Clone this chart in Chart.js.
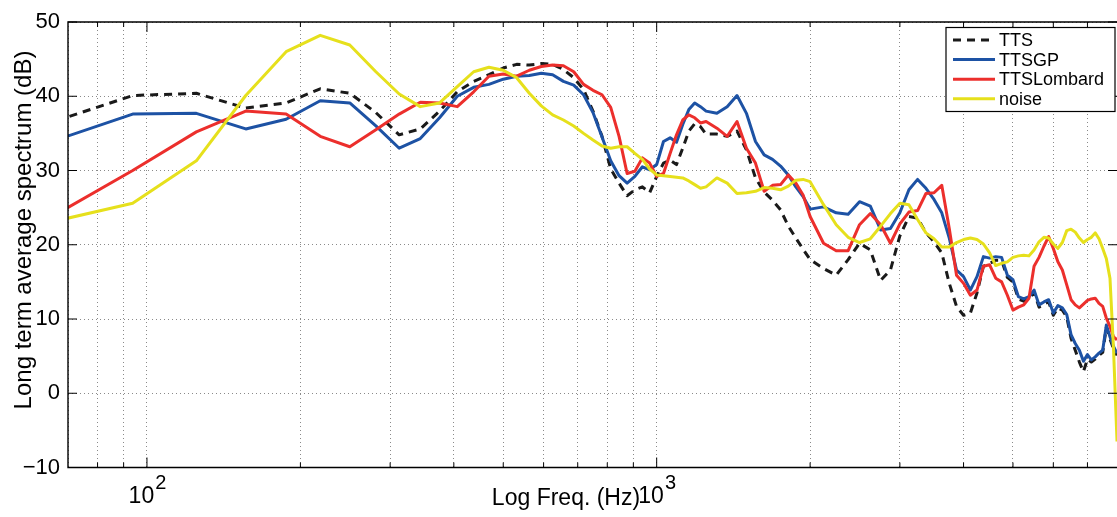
<!DOCTYPE html>
<html>
<head>
<meta charset="utf-8">
<title>Long term average spectrum</title>
<script src="https://cdn.jsdelivr.net/npm/chart.js@4.4.1/dist/chart.umd.min.js"></script>
<style>
  html, body { margin: 0; padding: 0; background: #fff; }
  #wrap { width: 1117px; height: 517px; }
</style>
</head>
<body>
<div id="wrap"><canvas id="spectrum" width="1117" height="517"></canvas></div>
<script>
// FFT bin centres (Hz)
const freqHz = [
  62.5, 93.75, 125, 156.25, 187.5, 218.75, 250, 281.25, 312.5, 343.75,
  375, 406.25, 437.5, 468.75, 500, 531.25, 562.5, 593.75, 625, 656.25,
  687.5, 718.75, 750, 781.25, 812.5, 843.75, 875, 906.25, 937.5, 968.75,
  1000, 1031.25, 1062.5, 1093.75, 1125, 1156.25, 1187.5, 1218.75, 1250, 1312.5,
  1375, 1437.5, 1500, 1562.5, 1625, 1687.5, 1750, 1812.5, 1875, 1937.5,
  2000, 2125, 2250, 2375, 2500, 2625, 2750, 2875, 3000, 3125,
  3250, 3375, 3500, 3625, 3750, 3875, 4000, 4125, 4250, 4375,
  4500, 4625, 4750, 4875, 5000, 5125, 5250, 5375, 5500, 5625,
  5750, 5875, 6000, 6125, 6250, 6375, 6500, 6625, 6750, 6875,
  7000, 7125, 7250, 7375, 7500, 7625, 7750, 7875, 8000
];

// Long term average spectrum (dB) per signal
const tts = [
  36.1, 40.1, 40.4, 38.4, 39.1, 41.0, 40.4, 37.8, 34.8, 35.6,
  38.0, 40.6, 42.0, 42.9, 43.8, 44.3, 44.2, 44.4, 44.3, 43.6,
  42.5, 40.9, 38.0, 34.6, 30.2, 28.3, 26.6, 27.4, 27.8, 27.0,
  29.2, 31.0, 31.4, 30.8, 33.0, 35.3, 36.3, 35.9, 34.9, 34.9,
  34.6, 35.3, 32.8, 29.0, 27.1, 26.0, 24.7, 22.5, 20.9, 19.4,
  18.0, 16.8, 15.9, 18.0, 20.2, 19.3, 15.2, 16.6, 21.2, 23.8,
  23.6, 21.6, 20.4, 18.9, 14.8, 11.7, 10.5, 10.8, 13.5, 17.1,
  17.5, 17.9, 17.9, 15.6, 15.0, 12.7, 12.4, 12.7, 13.6, 11.6,
  12.0, 12.3, 10.5, 11.5, 11.2, 10.3, 7.4, 5.8, 4.2, 2.9,
  4.6, 4.2, 4.6, 5.1, 5.5, 8.9, 7.3, 6.0, 5.1
];
const ttsGP = [
  33.5, 37.6, 37.7, 35.6, 36.9, 39.4, 39.1, 36.0, 33.0, 34.3,
  37.1, 40.0, 41.2, 41.6, 42.3, 42.7, 42.8, 43.1, 42.9, 42.0,
  41.5, 40.2, 37.8, 34.5, 31.3, 29.3, 28.3, 29.2, 30.5, 30.1,
  30.8, 33.9, 34.4, 33.8, 36.2, 38.2, 39.1, 38.6, 38.0, 37.7,
  38.6, 40.1, 37.7, 33.9, 32.1, 31.5, 30.6, 29.4, 27.8, 26.5,
  24.8, 25.1, 24.3, 24.1, 25.8, 25.2, 22.0, 22.2, 24.3, 27.4,
  28.8, 27.6, 26.1, 24.3, 20.9, 16.6, 15.7, 13.9, 15.7, 18.4,
  18.2, 18.4, 18.3, 15.9, 15.3, 13.0, 12.7, 13.0, 13.9, 11.9,
  12.3, 12.6, 10.8, 11.8, 11.5, 10.6, 7.9, 6.7, 5.8, 4.3,
  5.2, 4.5, 4.9, 5.4, 5.8, 9.2, 7.6, 6.3, 5.4
];
const ttsLombard = [
  23.1, 30.0, 35.2, 38.0, 37.6, 34.6, 33.2, 35.5, 37.6, 39.2,
  39.1, 38.6, 40.6, 42.7, 43.0, 42.7, 43.5, 44.0, 44.2, 44.1,
  43.3, 41.6, 40.8, 40.2, 38.5, 34.6, 29.6, 29.9, 31.7, 31.0,
  29.2, 29.6, 32.3, 34.8, 36.8, 37.5, 37.1, 36.4, 36.6, 35.7,
  34.6, 36.6, 33.0, 31.0, 27.2, 28.0, 28.1, 29.4, 28.3, 26.7,
  23.8, 20.2, 19.2, 19.2, 22.7, 24.2, 22.7, 20.2, 22.8, 24.4,
  24.6, 26.9, 27.0, 28.0, 22.2, 15.9, 14.8, 13.2, 13.9, 17.1,
  17.3, 15.5, 15.0, 13.2, 11.2, 11.6, 11.9, 12.8, 17.1, 18.3,
  19.8, 21.1, 19.5, 17.7, 16.6, 14.6, 12.6, 11.9, 11.5, 12.0,
  12.5, 12.7, 12.8, 12.1, 11.7, 10.1, 9.0, 7.6, 7.2
];
const noise = [
  22.8, 25.6, 31.3, 40.1, 46.0, 48.2, 46.9, 43.3, 40.3, 38.6,
  39.1, 41.3, 43.3, 43.9, 43.5, 42.5, 40.4, 38.7, 37.5, 36.8,
  36.0, 35.0, 34.1, 33.3, 33.0, 33.2, 33.2, 32.3, 31.5, 30.2,
  29.4, 29.3, 29.2, 29.1, 29.0, 28.6, 28.1, 27.6, 27.8, 29.0,
  28.3, 26.9, 27.0, 27.2, 27.7, 27.6, 27.4, 27.9, 28.7, 28.8,
  28.5, 25.4, 22.7, 21.0, 20.3, 20.8, 22.5, 24.2, 25.6, 25.4,
  23.4, 21.6, 20.8, 19.7, 19.7, 20.3, 20.7, 20.9, 20.7, 20.1,
  18.9, 17.2, 17.5, 17.7, 18.3, 18.5, 18.6, 18.5, 19.3, 20.4,
  21.0, 20.9, 20.1, 19.5, 20.3, 21.9, 22.1, 21.7, 20.9, 20.3,
  20.7, 21.0, 21.6, 20.8, 19.5, 18.1, 15.5, 6.0, -6.5
];

// Axis ticks
const xGridTicks = [70, 80, 90, 100, 200, 300, 400, 500, 600, 700, 800, 900,
  1000, 2000, 3000, 4000, 5000, 6000, 7000, 8000];
const xMajorTicks = [100, 1000];
const xMajorLabels = [["10", "2"], ["10", "3"]];
const yMin = -10;
const yMax = 50;
const yStep = 10;

const FONT = "'Liberation Sans', Arial, Helvetica, sans-serif";

function toPoints(values) {
  return freqHz.map((f, i) => ({ x: f, y: values[i] }));
}

// order: lowest is drawn last, so noise ends up on top like the plot order
const datasets = [
  { label: "TTS", data: toPoints(tts), borderColor: "#1a1a1a", borderDash: [8, 6], order: 3 },
  { label: "TTSGP", data: toPoints(ttsGP), borderColor: "#1d52a4", order: 2 },
  { label: "TTSLombard", data: toPoints(ttsLombard), borderColor: "#ec2f2c", order: 1 },
  { label: "noise", data: toPoints(noise), borderColor: "#e6e01c", order: 0 },
].map((d) => ({
  ...d,
  borderWidth: 3,
  pointRadius: 0,
  tension: 0,
  fill: false,
  borderJoinStyle: "round",
}));

// Box, inward ticks, tick labels, titles and legend (MATLAB style)
const framePlugin = {
  id: "frame",
  afterDraw(chart) {
    const { ctx, chartArea: a, scales } = chart;
    const xs = scales.x;
    const ys = scales.y;
    ctx.save();

    // box
    ctx.strokeStyle = "#000";
    ctx.lineWidth = 1.4;
    ctx.beginPath();
    ctx.moveTo(a.right, a.top);
    ctx.lineTo(a.left, a.top);
    ctx.lineTo(a.left, a.bottom);
    ctx.lineTo(a.right, a.bottom);
    ctx.stroke();

    // x ticks, inward at bottom and top
    ctx.lineWidth = 1;
    xGridTicks.forEach((v) => {
      if (v <= xs.min || v >= xs.max) return;
      const px = xs.getPixelForValue(v);
      const len = xMajorTicks.includes(v) ? 10 : 5;
      ctx.beginPath();
      ctx.moveTo(px, a.bottom);
      ctx.lineTo(px, a.bottom - len);
      ctx.moveTo(px, a.top);
      ctx.lineTo(px, a.top + len);
      ctx.stroke();
    });

    // y ticks, inward at left and right
    ys.ticks.forEach((t) => {
      const py = ys.getPixelForValue(t.value);
      ctx.beginPath();
      ctx.moveTo(a.left, py);
      ctx.lineTo(a.left + 9, py);
      ctx.moveTo(a.right, py);
      ctx.lineTo(a.right - 9, py);
      ctx.stroke();
    });

    // x tick labels with superscript exponent
    ctx.fillStyle = "#000";
    ctx.textBaseline = "alphabetic";
    ctx.textAlign = "left";
    xMajorTicks.forEach((v, i) => {
      const [base, exp] = xMajorLabels[i];
      const px = xs.getPixelForValue(v);
      ctx.font = "23px " + FONT;
      const wb = ctx.measureText(base).width;
      ctx.font = "20px " + FONT;
      const we = ctx.measureText(exp).width;
      const x0 = px - (wb + we) / 2;
      ctx.font = "23px " + FONT;
      ctx.fillText(base, x0, a.bottom + 35);
      ctx.font = "20px " + FONT;
      ctx.fillText(exp, x0 + wb + 1, a.bottom + 21);
    });

    // axis titles
    ctx.font = "23px " + FONT;
    ctx.textAlign = "center";
    ctx.fillText("Log Freq. (Hz)", 566, 505);
    ctx.save();
    ctx.translate(31, 230);
    ctx.rotate(-Math.PI / 2);
    ctx.font = "24px " + FONT;
    ctx.fillText("Long term average spectrum (dB)", 0, 0);
    ctx.restore();

    // legend box
    const lx = 946, ly = 27.5, lw = 169, lh = 84, row = 19.6;
    ctx.fillStyle = "#fff";
    ctx.fillRect(lx, ly, lw, lh);
    ctx.strokeStyle = "#000";
    ctx.lineWidth = 1.2;
    ctx.strokeRect(lx, ly, lw, lh);
    ctx.font = "18px " + FONT;
    ctx.textAlign = "left";
    ctx.textBaseline = "middle";
    chart.data.datasets.forEach((d, i) => {
      const cy = ly + 12.5 + i * row;
      ctx.strokeStyle = d.borderColor;
      ctx.lineWidth = 3;
      ctx.setLineDash(d.borderDash || []);
      ctx.beginPath();
      ctx.moveTo(953, cy);
      ctx.lineTo(995, cy);
      ctx.stroke();
      ctx.setLineDash([]);
      ctx.fillStyle = "#000";
      ctx.fillText(d.label, 999, cy + 1);
    });

    ctx.restore();
  },
};

const gridStyle = { color: "#8a8a8a", lineWidth: 1, drawTicks: false };

new Chart(document.getElementById("spectrum").getContext("2d"), {
  type: "line",
  data: { datasets },
  options: {
    responsive: false,
    animation: false,
    layout: { padding: { top: 22, right: 0, bottom: 0, left: 0 } },
    plugins: { legend: { display: false }, tooltip: { enabled: false } },
    scales: {
      x: {
        type: "logarithmic",
        min: 70,
        max: 8000,
        afterFit(scale) {
          scale.height = 49.5;
        },
        afterBuildTicks(scale) {
          scale.ticks = xGridTicks.map((v) => ({ value: v }));
        },
        ticks: { display: false },
        grid: gridStyle,
        border: { display: false, dash: [1, 3] },
      },
      y: {
        min: yMin,
        max: yMax,
        afterFit(scale) {
          scale.width = 68;
        },
        ticks: {
          stepSize: yStep,
          padding: 8,
          color: "#000",
          font: { family: FONT, size: 22 },
          callback: (v) => (v < 0 ? "\u2212" + Math.abs(v) : String(v)),
        },
        grid: gridStyle,
        border: { display: false, dash: [1, 3] },
      },
    },
  },
  plugins: [framePlugin],
});
</script>
</body>
</html>
